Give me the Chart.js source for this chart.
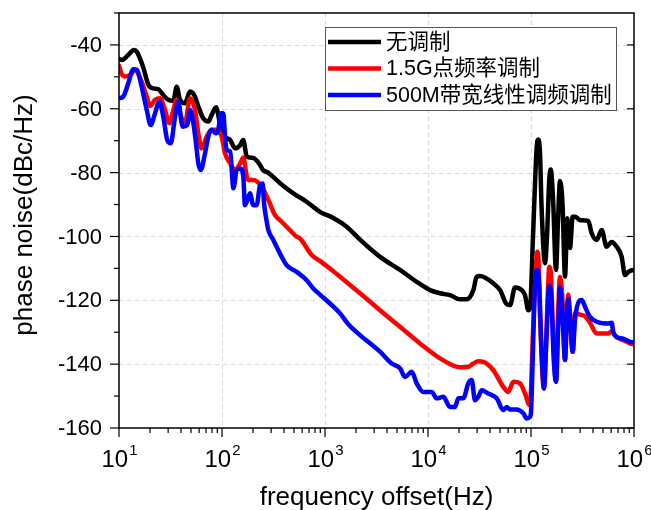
<!DOCTYPE html>
<html>
<head>
<meta charset="utf-8">
<script src="https://cdn.jsdelivr.net/npm/chart.js@4.4.1/dist/chart.umd.min.js"></script>
<style>
  html, body { margin: 0; padding: 0; background: #fff; }
  canvas { display: block; }
</style>
</head>
<body>
<canvas id="pnChart" width="651" height="510"></canvas>
<script>
// series names (legend)
const seriesNames = ['无调制', '1.5G点频率调制', '500M带宽线性调频调制'];

// no modulation (black)
const freqBlack = [10, 10.7, 12.0, 14.0, 15.0, 17.1, 19.3, 21.5, 24.1, 26.9, 30.1, 33.7, 36.3, 39.1, 43.7, 48.9, 54.7, 58.9, 65.8, 73.6,
  79.4, 87.4, 95.6, 107, 120, 134, 150, 161, 174, 201, 234, 250, 280, 366, 489, 668, 894, 1205, 1637, 2188,
  3423, 5349, 7770, 10450, 13080, 16360, 20450, 23760, 27550, 29700, 31980, 43080, 50030, 58070, 62530, 69960, 81190, 87440, 94230, 97740,
  104600, 113600, 117700, 122300, 126400, 136700, 143000, 150600, 155400, 163600, 174900, 182900, 191300, 202400, 213900, 225200, 239100, 254000, 267400, 299300,
  360000, 388100, 434400, 485600, 542500, 606300, 679000, 759300, 817700, 881500, 985000, 1000000];
const noiseBlack = [-44.4, -44.7, -43.5, -41.6, -42.3, -46.8, -52.5, -53.6, -53.9, -55.7, -57.2, -57.5, -53.1, -57.2, -58.3, -54.6, -56.2, -59.3, -63.0, -64.0,
  -61.9, -59.5, -64.5, -68.7, -69.8, -72.4, -71.4, -69.8, -75.0, -75.4, -77.6, -79.2, -80.0, -83.3, -86.4, -89.2, -92.3, -94.2, -97.0, -101.0,
  -106.4, -110.5, -114.2, -116.8, -117.8, -118.4, -119.7, -119.7, -116.8, -112.6, -112.4, -114.7, -116.8, -121.2, -121.5, -116.0, -116.8, -118.4, -123.1, -122.6,
  -100, -72, -69.6, -74, -90, -108.4, -100, -82, -79, -88, -110.5, -95, -82.6, -90, -112.6, -94.3, -103.6, -93.8, -93.8, -94.9,
  -95.1, -99, -101.1, -98, -103.2, -101.7, -103.2, -106.4, -112.1, -111.1, -110.5, -110.5];

// 1.5 GHz point frequency modulation (red)
const freqRed = [10, 10.6, 11.4, 12.8, 14.3, 16.6, 18.6, 20.0, 22.4, 25.0, 28.0, 30.8, 33.7, 36.3, 39.1, 43.7, 48.9, 54.7, 58.9, 63.5,
  71.0, 79.4, 88.8, 99.3, 107, 120, 134, 150, 161, 174, 180, 201, 243, 282, 327, 380, 457, 531, 571, 743,
  894, 1196, 1400, 2188, 3423, 5349, 8363, 13080, 20450, 24640, 27550, 30780, 34460, 43080, 53850, 60190, 67350, 78210, 87440, 94230,
  97740, 104600, 113600, 115100, 117700, 122300, 133700, 143000, 150600, 155400, 163600, 174900, 182900, 191300, 202400, 213900, 225200, 230300, 239100, 254000,
  267400, 299300, 334500, 373900, 434400, 562300, 606300, 679000, 787300, 915000, 1000000];
const noiseRed = [-46.5, -49.0, -49.9, -49.4, -48.0, -51.5, -56.2, -59.1, -57.2, -56.7, -60.4, -64.5, -60.4, -57.2, -61.4, -64.5, -56.7, -60.4, -67.7, -72.4,
  -68.7, -66.6, -66.6, -68.7, -74.0, -77.1, -79.2, -77.1, -75.3, -81.3, -82.3, -82.3, -84.4, -88.6, -93.3, -95.4, -98.0, -100.1, -100.6, -105.8,
  -107.7, -110.8, -112.6, -117.8, -123.1, -128.3, -133.5, -138.2, -141.0, -140.8, -139.8, -139.1, -139.3, -141.9, -147.1, -148.7, -145.5, -146.0, -149.2, -152.3,
  -152.9, -130, -106, -104.8, -106, -125, -147.6, -125, -109.5, -111, -130, -145.5, -125, -112.7, -120, -138.7, -122, -118.2, -125, -136.1,
  -124, -124.5, -125, -127, -130.4, -130.4, -129.8, -131.5, -132.5, -133.5, -133.8];

// 500 MHz bandwidth linear FM (blue)
const freqBlue = [10, 11.0, 12.3, 13.8, 14.9, 16.6, 18.6, 20.3, 22.4, 24.6, 26.9, 29.4, 31.8, 35.0, 37.6, 41.5, 46.0, 48.9, 52.7, 55.9,
  58.9, 62.1, 68.4, 73.6, 79.4, 87.4, 92.0, 97.8, 103, 107, 111, 120, 129, 139, 150, 161, 167, 187, 201, 217,
  234, 248, 256, 272, 282, 315, 380, 425, 531, 664, 770, 894, 1205, 1400, 1684, 2188, 3423, 4444, 5349, 5983,
  6951, 7770, 9003, 10860, 12140, 14080, 16360, 18290, 19690, 22010, 24640, 26570, 28590, 30780, 33200, 38540, 46450, 53850, 58070, 62530,
  72630, 84230, 90780, 97740, 100000, 104600, 109300, 115100, 120000, 126400, 133700, 140000, 150000, 158000, 166000, 174900, 183000, 191300, 202400, 213900,
  222000, 230300, 240000, 254000, 267400, 277700, 299300, 310700, 334500, 373900, 434400, 562300, 606300, 629300, 679000, 787300, 915000, 1000000];
const noiseBlue = [-56.7, -56.2, -52.0, -47.6, -47.8, -53.1, -60.4, -65.1, -61.4, -57.8, -62.5, -69.8, -70.8, -62.5, -57.8, -65.6, -65.1, -60.4, -64.5, -70.8,
  -77.1, -79.2, -74.0, -68.7, -66.6, -67.7, -66.6, -61.4, -61.4, -68.7, -72.9, -73.4, -84.9, -79.2, -78.7, -81.3, -90.2, -86.5, -90.2, -90.2,
  -83.9, -83.4, -89.6, -95.4, -98.0, -101.1, -106.4, -109.0, -111.1, -113.7, -116.3, -118.2, -122.0, -124.1, -127.5, -130.9, -136.1, -139.8, -141.3, -144.0,
  -142.4, -146.0, -148.7, -148.7, -150.7, -150.2, -153.4, -153.4, -150.7, -150.7, -146.0, -145.0, -151.3, -150.2, -148.2, -149.2, -150.7, -154.4, -153.4, -154.2,
  -154.2, -155.4, -157.0, -156.5, -155, -135, -115, -110.5, -115, -135, -147.6, -135, -115.5, -120, -138, -145.5, -130, -116, -125, -138.7,
  -125, -119.4, -126, -136.1, -126, -122.5, -120, -119.9, -122, -125.2, -126.7, -127.3, -127, -130, -131.5, -132, -133, -133.2];

// axis ticks
const xExponents = [1, 2, 3, 4, 5, 6];
const yTicks = [-160, -150, -140, -130, -120, -110, -100, -90, -80, -70, -60, -50, -40, -30];
const yLabelTicks = [-160, -140, -120, -100, -80, -60, -40];

const FONT = '"Liberation Sans", Arial, "Noto Sans CJK SC", sans-serif';

function pts(fs, vs) { return fs.map((f, i) => ({ x: f, y: vs[i] })); }

const axisFrame = {
  id: 'axisFrame',
  beforeDatasetsDraw(chart) {
    const { ctx, chartArea: a, scales: { x, y } } = chart;
    ctx.save();
    ctx.strokeStyle = '#d6d6d6';
    ctx.lineWidth = 1;
    ctx.setLineDash([4, 4]);
    xExponents.slice(1, -1).forEach(e => {
      const px = Math.round(x.getPixelForValue(Math.pow(10, e))) + 0.5;
      ctx.beginPath(); ctx.moveTo(px, a.top); ctx.lineTo(px, a.bottom); ctx.stroke();
    });
    yLabelTicks.slice(1).forEach(v => {
      const py = Math.round(y.getPixelForValue(v)) + 0.5;
      ctx.beginPath(); ctx.moveTo(a.left, py); ctx.lineTo(a.right, py); ctx.stroke();
    });
    ctx.restore();
  },
  afterDatasetsDraw(chart) {
    const { ctx, chartArea: a, scales: { x, y } } = chart;
    ctx.save();
    ctx.strokeStyle = '#000';
    ctx.lineWidth = 1.5;
    ctx.strokeRect(a.left, a.top, a.right - a.left, a.bottom - a.top);

    // x ticks (outside, bottom)
    ctx.lineWidth = 1.2;
    for (let e = 1; e <= 6; e++) {
      const px = x.getPixelForValue(Math.pow(10, e));
      ctx.beginPath(); ctx.moveTo(px, a.bottom); ctx.lineTo(px, a.bottom + 9); ctx.stroke();
      if (e === 6) break;
      for (let m = 2; m <= 9; m++) {
        const mx = x.getPixelForValue(m * Math.pow(10, e));
        ctx.beginPath(); ctx.moveTo(mx, a.bottom); ctx.lineTo(mx, a.bottom + 5); ctx.stroke();
      }
    }
    // y ticks (outside left, inside right)
    yTicks.forEach(v => {
      const py = y.getPixelForValue(v);
      const major = yLabelTicks.includes(v);
      ctx.beginPath(); ctx.moveTo(a.left, py); ctx.lineTo(a.left - (major ? 9 : 5), py); ctx.stroke();
      if (major) { ctx.beginPath(); ctx.moveTo(a.right, py); ctx.lineTo(a.right - 7, py); ctx.stroke(); }
    });

    // tick labels
    ctx.fillStyle = '#000';
    ctx.font = '22px ' + FONT;
    ctx.textAlign = 'right';
    ctx.textBaseline = 'middle';
    yLabelTicks.forEach(v => ctx.fillText(String(v), a.left - 17, y.getPixelForValue(v) + 1));

    ctx.textAlign = 'left';
    ctx.textBaseline = 'alphabetic';
    xExponents.forEach(e => {
      const px = x.getPixelForValue(Math.pow(10, e));
      ctx.font = '24px ' + FONT;
      const wb = ctx.measureText('10').width;
      ctx.font = '15px ' + FONT;
      const we = ctx.measureText(String(e)).width;
      const x0 = px - (wb + we) / 2;
      ctx.font = '24px ' + FONT;
      ctx.fillText('10', x0, a.bottom + 39);
      ctx.font = '15px ' + FONT;
      ctx.fillText(String(e), x0 + wb + 1, a.bottom + 27);
    });

    // axis titles
    ctx.font = '26px ' + FONT;
    ctx.textAlign = 'center';
    ctx.fillText('frequency offset(Hz)', (a.left + a.right) / 2, 505);
    ctx.save();
    ctx.translate(32, 215);
    ctx.rotate(-Math.PI / 2);
    ctx.fillText('phase noise(dBc/Hz)', 0, 0);
    ctx.restore();

    // legend box
    ctx.fillStyle = '#fff';
    ctx.fillRect(325, 27, 291, 83);
    ctx.strokeStyle = '#555';
    ctx.lineWidth = 1;
    ctx.strokeRect(325.5, 27.5, 291, 83);
    ctx.font = '21.5px ' + FONT;
    ctx.textAlign = 'left';
    ctx.textBaseline = 'middle';
    chart.data.datasets.forEach((ds, i) => {
      const ly = 42 + i * 26.5;
      ctx.strokeStyle = ds.borderColor;
      ctx.lineWidth = 4.5;
      ctx.beginPath(); ctx.moveTo(328, ly); ctx.lineTo(381, ly); ctx.stroke();
      ctx.fillStyle = '#000';
      ctx.fillText(ds.label, 386, ly + 1);
    });
    ctx.restore();
  }
};

new Chart(document.getElementById('pnChart'), {
  type: 'line',
  data: {
    datasets: [
      { label: seriesNames[0], data: pts(freqBlack, noiseBlack), borderColor: '#000000', order: 3 },
      { label: seriesNames[1], data: pts(freqRed, noiseRed), borderColor: '#ff0000', order: 2 },
      { label: seriesNames[2], data: pts(freqBlue, noiseBlue), borderColor: '#0000ff', order: 1 }
    ]
  },
  options: {
    responsive: false,
    animation: false,
    layout: { padding: { left: 119, right: 17, top: 13, bottom: 82 } },
    elements: {
      point: { radius: 0 },
      line: { borderWidth: 4.5, cubicInterpolationMode: 'monotone', borderJoinStyle: 'round', borderCapStyle: 'round' }
    },
    scales: {
      x: { type: 'logarithmic', min: 10, max: 1000000, display: false },
      y: { type: 'linear', min: -160, max: -30, display: false }
    },
    plugins: { legend: { display: false }, tooltip: { enabled: false } }
  },
  plugins: [axisFrame]
});
</script>
</body>
</html>
